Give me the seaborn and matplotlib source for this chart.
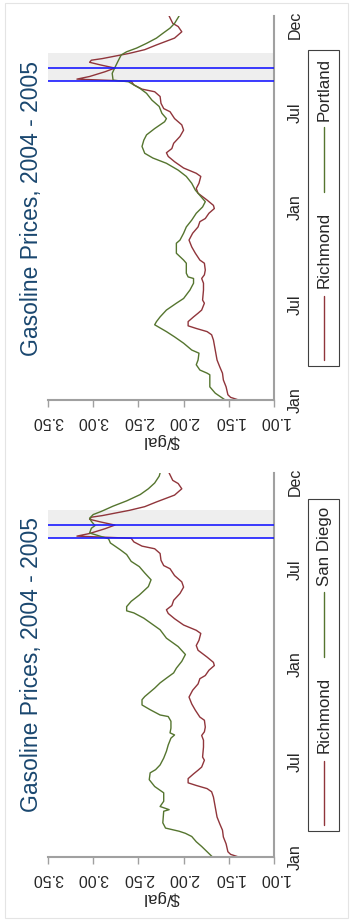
import numpy as np
import pandas as pd
import matplotlib
matplotlib.use("Agg")
import matplotlib.pyplot as plt
import matplotlib.dates as mdates
from matplotlib.patches import Rectangle
from matplotlib.lines import Line2D
import seaborn as sns

# Daily retail gasoline prices ($/gal), days counted from 1 Jan 2004
richmond_day = [0, 5, 10, 25, 38, 51, 63, 76, 95, 114,
                124, 130, 136, 141, 149, 158, 165, 171, 184, 190,
                209, 222, 231, 238, 247, 260, 266, 279, 291, 304,
                317, 329, 339, 345, 355, 364, 370, 380, 393, 402,
                412, 425, 431, 441, 453, 463, 470, 478, 488, 501,
                513, 523, 535, 548, 554, 564, 577, 586, 591, 599,
                606, 610, 615, 624, 631, 637, 642, 646, 649, 659,
                666, 675, 688, 700, 710, 716, 730]
richmond_price = [1.39, 1.48, 1.51, 1.53, 1.56, 1.57, 1.60, 1.63, 1.65, 1.67,
                  1.69, 1.74, 1.86, 1.95, 1.95, 1.89, 1.84, 1.80, 1.77, 1.79,
                  1.78, 1.78, 1.80, 1.77, 1.76, 1.77, 1.82, 1.87, 1.91, 1.94,
                  1.90, 1.84, 1.82, 1.76, 1.72, 1.66, 1.67, 1.74, 1.84, 1.86,
                  1.83, 1.81, 1.86, 2.00, 2.10, 2.17, 2.19, 2.13, 2.11, 2.04,
                  2.00, 2.02, 2.10, 2.15, 2.22, 2.25, 2.26, 2.32, 2.46, 2.55,
                  2.58, 3.18, 3.04, 2.87, 2.76, 2.92, 3.04, 3.02, 2.90, 2.60,
                  2.43, 2.30, 2.10, 2.02, 2.06, 2.12, 2.16]

portland_day = [0, 13, 25, 48, 51, 57, 67, 76, 89, 95,
                108, 120, 130, 143, 149, 158, 171, 184, 193, 209,
                222, 231, 234, 241, 260, 266, 279, 298, 304, 317,
                329, 342, 355, 367, 377, 393, 399, 412, 425, 437,
                450, 460, 469, 482, 494, 504, 516, 529, 535, 545,
                558, 570, 583, 592, 599, 605, 608, 621, 632, 646,
                656, 662, 669, 678, 688, 697, 707, 716, 730]
portland_price = [1.54, 1.65, 1.71, 1.71, 1.74, 1.82, 1.86, 1.84, 1.83, 1.91,
                  2.00, 2.10, 2.19, 2.32, 2.30, 2.26, 2.19, 2.08, 2.00, 1.93,
                  1.89, 1.89, 1.95, 1.97, 1.97, 2.00, 2.08, 2.08, 2.04, 2.00,
                  1.97, 1.91, 1.86, 1.79, 1.76, 1.84, 1.87, 1.91, 1.97, 2.06,
                  2.19, 2.34, 2.43, 2.46, 2.44, 2.41, 2.32, 2.21, 2.19, 2.24,
                  2.27, 2.35, 2.41, 2.48, 2.55, 2.61, 2.78, 2.79, 2.76, 2.72,
                  2.69, 2.63, 2.52, 2.41, 2.30, 2.23, 2.15, 2.10, 2.05]

san_diego_day = [0, 10, 20, 29, 39, 45, 49, 55, 65, 87,
                 90, 96, 106, 122, 134, 147, 160, 166, 175, 188,
                 201, 213, 226, 232, 236, 245, 258, 267, 270, 280,
                 286, 289, 299, 305, 321, 331, 340, 350, 359, 372,
                 385, 400, 416, 432, 443, 454, 464, 468, 476, 486,
                 498, 514, 527, 540, 552, 562, 575, 584, 597, 605,
                 616, 625, 630, 638, 644, 651, 657, 667, 677, 689,
                 700, 711, 724, 730]
san_diego_price = [1.68, 1.74, 1.80, 1.86, 1.91, 1.98, 2.05, 2.20, 2.23, 2.22,
                   2.16, 2.26, 2.22, 2.22, 2.32, 2.38, 2.37, 2.31, 2.26, 2.22,
                   2.19, 2.17, 2.14, 2.10, 2.15, 2.14, 2.14, 2.17, 2.26, 2.37,
                   2.43, 2.46, 2.46, 2.43, 2.32, 2.26, 2.19, 2.11, 2.08, 2.02,
                   1.98, 2.06, 2.19, 2.26, 2.35, 2.44, 2.55, 2.63, 2.63, 2.58,
                   2.49, 2.39, 2.36, 2.43, 2.49, 2.58, 2.63, 2.70, 2.81, 2.83,
                   3.04, 3.02, 2.98, 3.02, 3.04, 3.00, 2.91, 2.78, 2.63, 2.48,
                   2.39, 2.32, 2.27, 2.26]

price_ticks = [1.0, 1.5, 2.0, 2.5, 3.0, 3.5]
month_ticks = ["2004-01-01", "2004-07-01", "2005-01-01", "2005-07-01", "2005-12-14"]
month_labels = ["Jan", "Jul", "Jan", "Jul", "Dec"]
katrina = "2005-08-29"
rita = "2005-09-24"
shade_end = "2005-10-21"
title_text = "Gasoline Prices, 2004 - 2005"
y_title = "$/gal"

# ---- style ----
RED = "#90353b"
GREEN = "#55752f"
BLUE = "#1a1aff"
BAND = "#eeeeee"
AXIS_C = "#a0a0a0"
TITLE_C = "#1a476f"
TICK_FS = 11.5
LEG_FS = 12.2
TITLE_FS = 16.5

sns.set_style("white")
plt.rcParams["font.family"] = ["Liberation Sans", "DejaVu Sans"]

W, H, DPI = 351, 922, 100


def fx(px):
    return px / W


def fy(py):
    return 1 - py / H


fig = plt.figure(figsize=(W / DPI, H / DPI), dpi=DPI)
fig.patch.set_facecolor("white")

start = pd.Timestamp("2004-01-01")


def to_dates(days):
    return start + pd.to_timedelta(np.asarray(days), unit="D")


panels = [
    dict(top=16, other="Portland", day=portland_day, price=portland_price),
    dict(top=473, other="San Diego", day=san_diego_day, price=san_diego_price),
]
AX_L, AX_R, AX_H = 48, 274, 384

renderer = fig.canvas.get_renderer()

for p in panels:
    top = p["top"]
    bottom = top + AX_H
    ax = fig.add_axes([fx(AX_L), fy(bottom), (AX_R - AX_L) / W, AX_H / H])
    df = pd.concat([
        pd.DataFrame({"date": to_dates(richmond_day), "price": richmond_price,
                      "city": "Richmond"}),
        pd.DataFrame({"date": to_dates(p["day"]), "price": p["price"],
                      "city": p["other"]}),
    ], ignore_index=True)
    sns.lineplot(data=df, x="price", y="date", hue="city",
                 palette={"Richmond": RED, p["other"]: GREEN},
                 estimator=None, sort=False, orient="y", linewidth=1.0,
                 ax=ax, legend=False)
    ax.axhspan(pd.Timestamp(katrina), pd.Timestamp(shade_end), color=BAND,
               lw=0, zorder=0)
    for d in (katrina, rita):
        ax.axhline(pd.Timestamp(d), color=BLUE, lw=1.2, zorder=3)

    ax.set_xlim(3.5, 1.0)
    ax.set_ylim(pd.Timestamp("2004-01-01"), pd.Timestamp("2005-12-31"))

    # price axis along the bottom, labels upside down
    ax.set_xticks(price_ticks)
    ax.set_xticklabels([f"{v:.2f}" for v in price_ticks], rotation=180,
                       fontsize=TICK_FS)
    ax.tick_params(axis="x", bottom=True, length=5, width=1, color=AXIS_C,
                   pad=5)
    ax.set_xlabel("\\" + y_title, rotation=180, fontsize=LEG_FS, labelpad=3)

    # time axis along the right edge
    ax.yaxis.tick_right()
    ticks = mdates.date2num(pd.to_datetime(month_ticks).to_pydatetime())
    ax.set_yticks(ticks)
    ax.set_yticklabels(month_labels, rotation=90, va="center", fontsize=TICK_FS)
    ax.tick_params(axis="y", right=True, left=False, length=0, pad=10)
    ax.set_ylabel("")

    for s in ("top", "left"):
        ax.spines[s].set_visible(False)
    for s in ("bottom", "right"):
        ax.spines[s].set_color(AXIS_C)
        ax.spines[s].set_linewidth(1.5)

    cy = top + AX_H / 2
    fig.text(fx(32), fy(cy), title_text, rotation=90, ha="center",
             va="center", fontsize=TITLE_FS, color=TITLE_C)

    # legend box on the right, reading bottom to top
    x_item = 323.5
    t1 = fig.text(fx(x_item + 0.5), 0.5, "Richmond", rotation=90, ha="center",
                  va="bottom", fontsize=LEG_FS)
    t2 = fig.text(fx(x_item + 0.5), 0.5, p["other"], rotation=90, ha="center",
                  va="bottom", fontsize=LEG_FS)
    w1 = t1.get_window_extent(renderer).height
    w2 = t2.get_window_extent(renderer).height
    total = 6 + 64 + 8 + w1 + 20 + 65 + 6 + w2 + 8
    lb = cy + total / 2
    y = lb - 6
    fig.add_artist(Line2D([fx(x_item), fx(x_item)], [fy(y), fy(y - 64)],
                          color=RED, lw=1.0))
    y -= 64 + 8
    t1.set_position((fx(x_item + 0.5), fy(y)))
    y -= w1 + 20
    fig.add_artist(Line2D([fx(x_item), fx(x_item)], [fy(y), fy(y - 65)],
                          color=GREEN, lw=1.0))
    y -= 65 + 6
    t2.set_position((fx(x_item + 0.5), fy(y)))
    fig.add_artist(Rectangle((fx(308), fy(lb)), (339 - 308) / W, total / H,
                             transform=fig.transFigure, facecolor="white",
                             edgecolor="#404040", lw=0.8, zorder=0))

# faint outer frame
fig.add_artist(Rectangle((fx(5), fy(918)), (348 - 5) / W, (918 - 3) / H,
                         transform=fig.transFigure, fill=False,
                         edgecolor="#e4e4e4", lw=0.8))

fig.savefig("out.png", dpi=DPI)
